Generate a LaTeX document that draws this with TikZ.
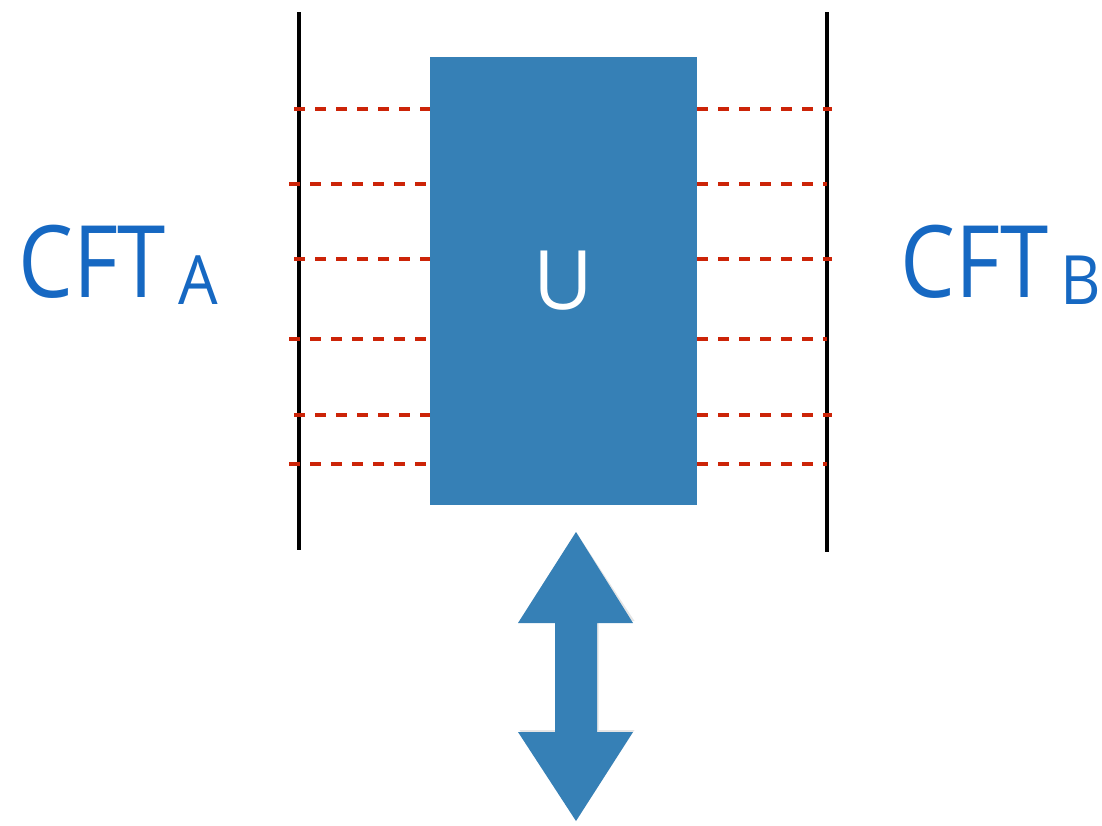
\documentclass[tikz,border=0pt]{standalone}
\usepackage{fontspec}
\setmainfont{Open Sans}
\definecolor{boxblue}{RGB}{54,128,182}
\definecolor{txtblue}{RGB}{22,104,194}
\definecolor{dashred}{RGB}{204,36,8}
\tikzset{
  wall/.style={line width=4pt, black},
  link/.style={line width=4.5pt, dashred, dash pattern=on 11pt off 10pt},
  cft/.style={text=txtblue, font=\fontsize{100}{100}\selectfont, inner sep=0pt, anchor=base west},
}
\newcommand{\cftlabel}[1]{\scalebox{0.87}[1]{CFT}\hspace{12pt}\raisebox{-7pt}{\fontsize{68}{68}\selectfont\scalebox{0.92}[1]{#1}}}
\begin{document}
\begin{tikzpicture}[x=1pt,y=-1pt]
\useasboundingbox (0,0) rectangle (1102,825);
% box U
\node[fill=boxblue, minimum width=267pt, minimum height=448pt, inner sep=0pt,
      text=white, font=\fontsize{82}{82}\selectfont] (U) at (563.5,281) {U};
% walls
\coordinate (lt) at (299,12); \coordinate (lb) at (299,550);
\coordinate (rt) at (827,12); \coordinate (rb) at (827,552);
\draw[wall] (lt) -- (lb);
\draw[wall] (rt) -- (rb);
% dashed links
\foreach \y/\xl/\xr [count=\i] in {109/294/832, 184/289/827, 259/294/832, 339/289/827, 415/294/832, 464/289/827}{
  \coordinate (a\i) at (\xl,\y);
  \coordinate (b\i) at (\xr,\y);
  \draw[link] (a\i) -- (U.west |- a\i);
  \draw[link] (U.east |- b\i) -- (b\i);
}
% labels
\node[cft] (cfta) at (18,297) {\cftlabel{A}};
\node[cft] (cftb) at (900,297) {\cftlabel{B}};
% double arrow
\coordinate (t) at (576,532);
\coordinate (bt) at (576,821);
\fill[black!10, xshift=1.5pt, yshift=2pt]
  (t) -- (633,623) -- (597,623) -- (597,732) -- (633,732) -- (bt)
  -- (518,732) -- (555,732) -- (555,623) -- (518,623) -- cycle;
\fill[boxblue]
  (t) -- (633,623) -- (597,623) -- (597,732) -- (633,732) -- (bt)
  -- (518,732) -- (555,732) -- (555,623) -- (518,623) -- cycle;
\end{tikzpicture}
\end{document}
